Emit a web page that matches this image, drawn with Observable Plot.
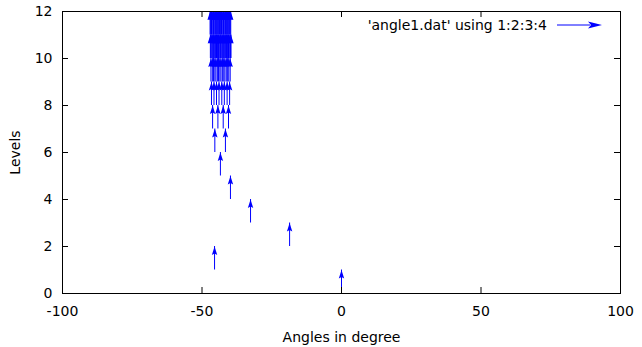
<!DOCTYPE html>
<html><head><meta charset="utf-8">
<script src="https://cdn.jsdelivr.net/npm/d3@7"></script>
<script src="https://cdn.jsdelivr.net/npm/@observablehq/plot@0.6"></script>
<style>html,body{margin:0;padding:0;background:#fff;} #chart{width:642px;height:347px;}</style>
</head><body><div id="chart"></div>
<script>
// Angles (x, degrees) of the vectors starting at each level (y)
const level0 = [0];
const level1 = [-45.5];
const level2 = [-18.6];
const level3 = [-32.6];
const level4 = [-39.8];
const level5 = [-43.4];
const level6 = [-45.4, -41.6];
const level7 = [-46.2, -44.3, -42.4, -40.5];
const level8 = [-46.6, -45.7, -44.8, -43.9, -42.9, -42.0, -41.0, -40.1];
const level9 = [-46.8, -46.3, -45.9, -45.4, -45.0, -44.5, -44.1, -43.6, -43.2, -42.7, -42.2, -41.8, -41.3, -40.8, -40.4, -39.9];
const level10 = [-47.0, -46.8, -46.5, -46.3, -46.0, -45.8, -45.6, -45.3, -45.1, -44.8, -44.6, -44.4, -44.1, -43.9, -43.6, -43.4,
                 -43.2, -42.9, -42.7, -42.4, -42.2, -42.0, -41.7, -41.5, -41.2, -41.0, -40.8, -40.5, -40.3, -40.0, -39.8, -39.6];
const level11 = [-47.1, -46.9, -46.6, -46.4, -46.1, -45.9, -45.7, -45.4, -45.2, -44.9, -44.7, -44.5, -44.2, -44.0, -43.7, -43.5,
                 -43.3, -43.0, -42.8, -42.5, -42.3, -42.1, -41.8, -41.6, -41.3, -41.1, -40.9, -40.6, -40.4, -40.1, -39.9, -39.7];
const levelAngles = [level0, level1, level2, level3, level4, level5, level6, level7, level8, level9, level10, level11];
// vector components (columns 3 and 4)
const arrowDX = 0;
const arrowDY = 1;
const xTicks = [-100, -50, 0, 50, 100];
const yTicks = [0, 2, 4, 6, 8, 10, 12];
const legendLabel = "'angle1.dat' using 1:2:3:4";

const data = levelAngles.flatMap((angles, level) => angles.map(x => ({x, y: level, dx: arrowDX, dy: arrowDY})));

const W = 642, H = 347, mL = 62, mR = 22, mT = 11, mB = 54;
const frameW = W - mL - mR, frameH = H - mT - mB;
const head = {draw(ctx) { ctx.moveTo(0, 0); ctx.lineTo(2.7, 8.5); ctx.lineTo(0, 7); ctx.lineTo(-2.7, 8.5); ctx.closePath(); }};
const tl = 6;

const chart = Plot.plot({
  width: W, height: H,
  marginLeft: mL, marginRight: mR, marginTop: mT, marginBottom: mB,
  style: {fontFamily: "'DejaVu Sans', sans-serif", fontSize: "14px", color: "black", background: "white"},
  x: {domain: [-100, 100]},
  y: {domain: [0, 12]},
  marks: [
    Plot.ruleX(data, {x: "x", y1: "y", y2: d => d.y + d.dy, stroke: "blue", strokeWidth: 1}),
    Plot.dot(data, {x: d => d.x + d.dx, y: d => d.y + d.dy, symbol: head, fill: "blue"}),
    Plot.ruleX(xTicks, {x: d => d, insetTop: frameH - tl}),
    Plot.ruleX(xTicks, {x: d => d, insetBottom: frameH - tl}),
    Plot.ruleY(yTicks, {y: d => d, insetRight: frameW - tl}),
    Plot.ruleY(yTicks, {y: d => d, insetLeft: frameW - tl}),
    Plot.frame({stroke: "black"}),
    Plot.axisX({ticks: xTicks, tickSize: 0, tickPadding: 12.5, tickFormat: d => String(d),
      label: "Angles in degree", labelAnchor: "center", labelOffset: 48, labelArrow: "none"}),
    Plot.axisY({ticks: yTicks, tickSize: 0, tickPadding: 10, tickFormat: d => String(d),
      label: "Levels", labelAnchor: "center", labelOffset: 52, labelArrow: "none"})
  ]
});

const svgEl = chart.tagName.toLowerCase() === "svg" ? chart : chart.querySelector("svg");
const g = d3.select(svgEl).append("g");
g.append("text").attr("x", 547).attr("y", 25).attr("dy", "0.35em").attr("text-anchor", "end")
  .attr("fill", "black").text(legendLabel);
g.append("line").attr("x1", 557).attr("x2", 590).attr("y1", 25).attr("y2", 25).attr("stroke", "blue");
g.append("path").attr("d", "M602,25L588,21.4L591,25L588,28.6Z").attr("fill", "blue");
document.getElementById("chart").append(chart);
</script>
</body></html>
